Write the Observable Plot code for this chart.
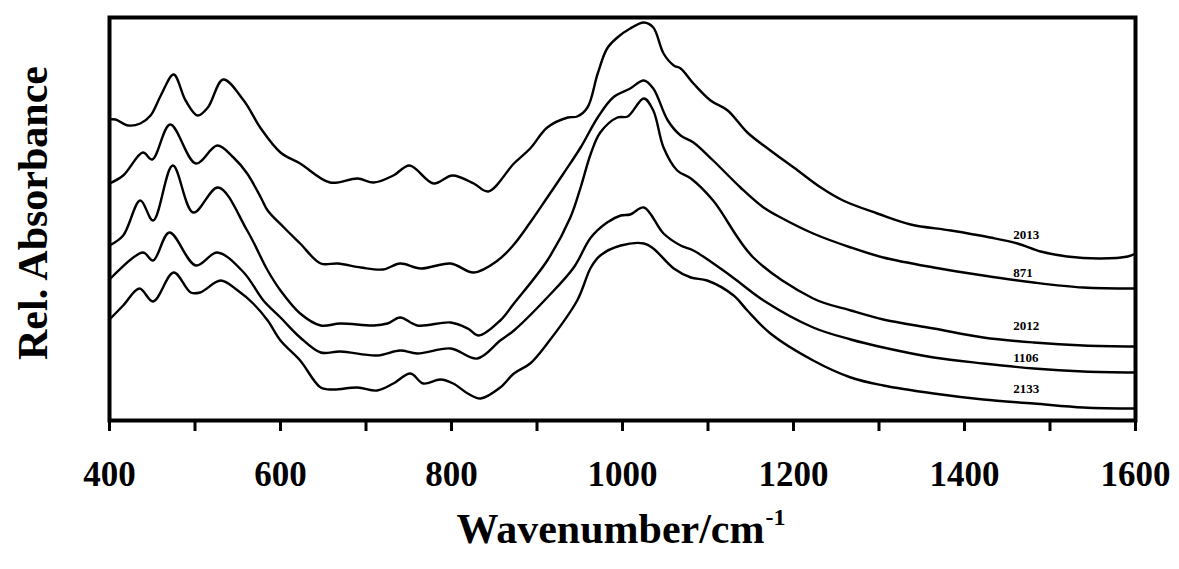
<!DOCTYPE html>
<html>
<head>
<meta charset="utf-8">
<script src="https://cdn.jsdelivr.net/npm/d3@7"></script>
<script src="https://cdn.jsdelivr.net/npm/@observablehq/plot@0.6"></script>
<style>
  html, body { margin: 0; padding: 0; background: #fff; }
</style>
</head>
<body>
<div id="chart"></div>
<script>
// Wavenumbers (cm^-1) and relative absorbance values
const wn2013 = [400,407,422,436,448,460,475,489,503,515,533,557,577,600,623,658,690,709,732,751,779,801,826,843,873,892,912,936,947,959,971,982,994,1009,1025,1036,1048,1060,1068,1083,1103,1123,1146,1173,1205,1232,1258,1298,1337,1384,1430,1462,1489,1520,1559,1591,1600];
const a2013  = [3.01,3.01,2.95,2.97,3.05,3.25,3.46,3.20,3.05,3.13,3.41,3.20,2.92,2.68,2.57,2.38,2.42,2.38,2.45,2.55,2.37,2.45,2.37,2.29,2.57,2.72,2.93,3.03,3.04,3.13,3.47,3.72,3.83,3.92,3.98,3.93,3.67,3.55,3.52,3.37,3.20,3.10,2.88,2.70,2.50,2.33,2.20,2.07,1.96,1.90,1.83,1.77,1.69,1.64,1.62,1.64,1.67];

const wn871 = [400,416,439,450,471,501,526,545,561,577,585,604,623,647,667,694,720,740,764,799,826,854,872,892,912,931,951,971,989,1009,1025,1036,1053,1068,1083,1106,1138,1165,1185,1223,1267,1305,1364,1422,1481,1539,1600];
const a871  = [2.37,2.45,2.68,2.61,2.96,2.57,2.75,2.63,2.47,2.23,2.10,1.93,1.77,1.57,1.57,1.53,1.51,1.57,1.52,1.57,1.48,1.60,1.75,1.98,2.23,2.47,2.73,3.03,3.23,3.32,3.40,3.32,3.00,2.85,2.78,2.60,2.33,2.13,2.03,1.87,1.73,1.63,1.53,1.45,1.38,1.33,1.32];

const wn2012 = [400,416,436,451,474,498,527,561,585,600,623,647,670,709,725,740,760,799,819,832,857,873,912,939,951,963,974,994,1006,1025,1036,1048,1064,1080,1106,1153,1223,1267,1305,1364,1422,1481,1539,1600];
const a2012  = [1.75,1.85,2.20,2.00,2.55,2.08,2.33,1.90,1.50,1.30,1.07,0.95,0.97,0.95,0.97,1.03,0.95,0.98,0.92,0.85,1.00,1.17,1.60,2.03,2.33,2.67,2.88,3.03,3.04,3.22,3.10,2.73,2.50,2.42,2.20,1.63,1.22,1.10,1.01,0.92,0.83,0.78,0.75,0.74];

const wn1106 = [400,439,451,470,501,526,557,580,600,623,647,670,713,740,760,799,830,857,873,912,943,963,982,998,1009,1025,1048,1068,1083,1126,1165,1223,1267,1305,1364,1422,1481,1539,1600];
const a1106  = [1.41,1.68,1.60,1.88,1.55,1.68,1.48,1.20,1.03,0.83,0.68,0.69,0.65,0.70,0.67,0.72,0.62,0.80,0.90,1.23,1.53,1.83,1.98,2.05,2.06,2.13,1.87,1.75,1.70,1.45,1.20,0.93,0.81,0.73,0.63,0.57,0.52,0.49,0.48];

const wn2133 = [400,416,435,451,475,495,506,530,550,568,585,600,623,647,662,690,713,732,752,767,787,802,819,834,857,873,892,912,947,963,974,998,1025,1036,1060,1080,1099,1130,1146,1173,1223,1267,1305,1364,1422,1481,1539,1600];
const a2133  = [1.01,1.15,1.32,1.19,1.48,1.28,1.28,1.40,1.30,1.17,1.00,0.80,0.60,0.33,0.31,0.33,0.30,0.37,0.47,0.37,0.41,0.37,0.27,0.22,0.33,0.47,0.57,0.77,1.20,1.53,1.65,1.75,1.77,1.72,1.52,1.43,1.40,1.25,1.10,0.87,0.60,0.43,0.35,0.27,0.21,0.17,0.13,0.12];

const seriesNames = ["2013", "871", "2012", "1106", "2133"];
const labelWn = [1457, 1457, 1457, 1457, 1457];
const labelAbs = [1.86, 1.48, 0.95, 0.63, 0.32];
const xTicks = [400,500,600,700,800,900,1000,1100,1200,1300,1400,1500,1600];

const seriesWn = [wn2013, wn871, wn2012, wn1106, wn2133];
const seriesAbs = [a2013, a871, a2012, a1106, a2133];

const rows = [];
seriesNames.forEach((name, i) => {
  seriesWn[i].forEach((w, j) => rows.push({series: name, wn: w, abs: seriesAbs[i][j]}));
});
const labels = seriesNames.map((name, i) => ({name, wn: labelWn[i], abs: labelAbs[i]}));

const serif = "'Liberation Serif', 'Times New Roman', serif";

const chart = Plot.plot({
  width: 1179,
  height: 569,
  marginLeft: 109,
  marginRight: 44,
  marginTop: 17,
  marginBottom: 149,
  style: {fontFamily: serif, fontWeight: "bold", color: "#000", background: "#fff"},
  x: {domain: [400, 1600], axis: null},
  y: {domain: [0, 4.03], axis: null},
  marks: [
    Plot.line(rows, {x: "wn", y: "abs", z: "series", stroke: "#000", strokeWidth: 2.4, curve: "catmull-rom"}),
    Plot.text(labels, {x: "wn", y: "abs", text: "name", textAnchor: "start", fontSize: 13, fontWeight: "bold", fill: "#000"}),
    Plot.frame({stroke: "#000", strokeWidth: 4}),
    Plot.axisX({
      ticks: xTicks,
      tickSize: 11,
      tickPadding: 30,
      strokeWidth: 3,
      tickFormat: d => d % 200 === 0 ? String(d) : "",
      fontSize: 35,
      fontWeight: "bold",
      label: null
    }),
    Plot.text(["Wavenumber/cm"], {frameAnchor: "bottom", dx: -12, dy: 122, textAnchor: "middle", fontSize: 42, fontWeight: "bold", fill: "#000"}),
    Plot.text(["-1"], {frameAnchor: "bottom", dx: 143, dy: 104, textAnchor: "start", fontSize: 24, fontWeight: "bold", fill: "#000"}),
    Plot.text(["Rel. Absorbance"], {frameAnchor: "left", dx: -76, dy: -6, rotate: -90, textAnchor: "middle", lineAnchor: "middle", fontSize: 42, fontWeight: "bold", fill: "#000"})
  ]
});
document.getElementById("chart").appendChild(chart);
</script>
</body>
</html>
